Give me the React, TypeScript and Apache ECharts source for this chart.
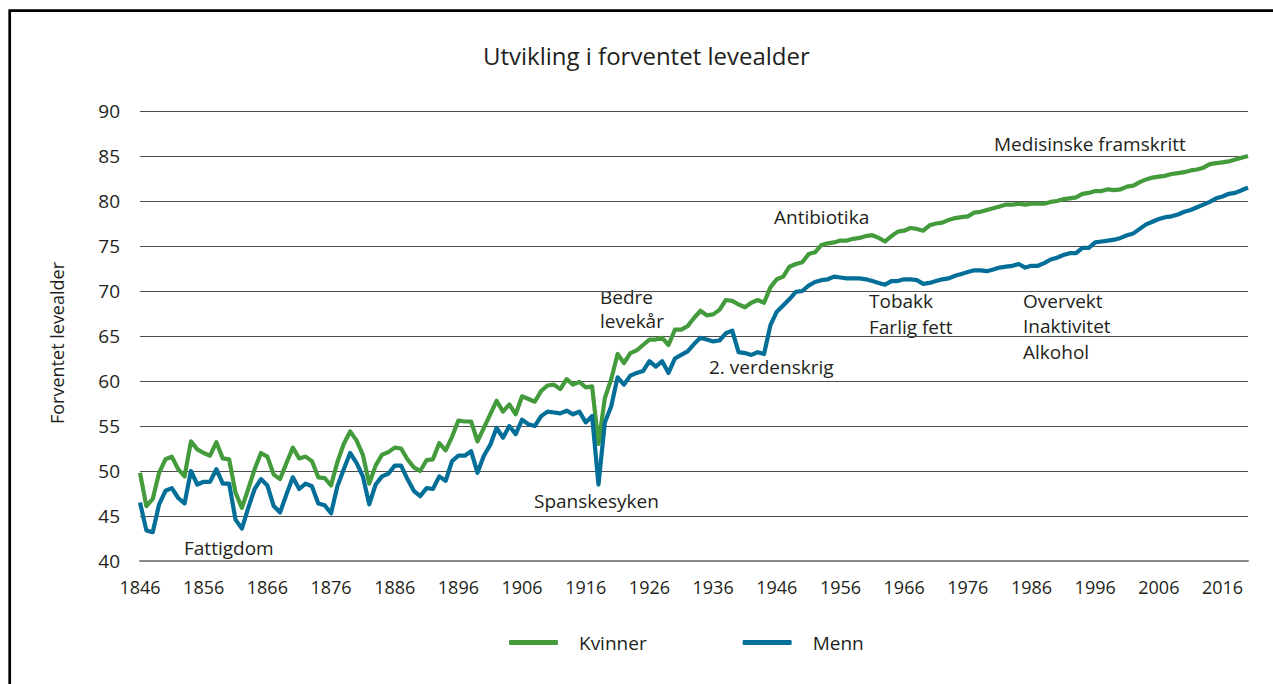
import React, { useEffect, useRef } from "react";
import * as echarts from "echarts";

const firstYear = 1846;
const lastYear = 2020;
const years: string[] = [];
for (let y = firstYear; y <= lastYear; y++) years.push(String(y));

const kvinner = [
  49.8, 46.1, 46.9, 49.8, 51.3, 51.6, 50.2, 49.4, 53.3, 52.4,
  52.0, 51.7, 53.2, 51.4, 51.3, 47.6, 45.9, 48.0, 50.2, 52.0,
  51.6, 49.6, 49.1, 50.9, 52.6, 51.4, 51.6, 51.1, 49.3, 49.2,
  48.4, 51.0, 53.0, 54.4, 53.4, 51.8, 48.6, 50.6, 51.8, 52.1,
  52.6, 52.5, 51.3, 50.4, 50.0, 51.2, 51.3, 53.1, 52.3, 53.8,
  55.6, 55.5, 55.5, 53.3, 54.8, 56.3, 57.8, 56.6, 57.4, 56.3,
  58.3, 58.0, 57.7, 58.9, 59.5, 59.6, 59.1, 60.2, 59.6, 59.9,
  59.3, 59.4, 53.0, 58.1, 60.2, 63.0, 62.0, 63.1, 63.4, 64.0,
  64.6, 64.6, 64.8, 64.0, 65.7, 65.7, 66.1, 67.0, 67.8, 67.3,
  67.4, 67.9, 69.0, 68.9, 68.5, 68.2, 68.7, 69.0, 68.7, 70.4,
  71.3, 71.6, 72.7, 73.0, 73.2, 74.1, 74.3, 75.1, 75.3, 75.4,
  75.6, 75.6, 75.8, 75.9, 76.1, 76.2, 75.9, 75.5, 76.1, 76.6,
  76.7, 77.0, 76.9, 76.7, 77.3, 77.5, 77.6, 77.9, 78.1, 78.2,
  78.3, 78.7, 78.8, 79.0, 79.2, 79.4, 79.6, 79.6, 79.7, 79.6,
  79.7, 79.7, 79.7, 79.9, 80.0, 80.2, 80.3, 80.4, 80.8, 80.9,
  81.1, 81.1, 81.3, 81.2, 81.3, 81.6, 81.7, 82.1, 82.4, 82.6,
  82.7, 82.8, 83.0, 83.1, 83.2, 83.4, 83.5, 83.7, 84.1, 84.2,
  84.3, 84.4, 84.6, 84.8, 85.0,
];

const menn = [
  46.5, 43.4, 43.2, 46.3, 47.8, 48.1, 47.0, 46.4, 50.0, 48.5,
  48.8, 48.8, 50.2, 48.6, 48.6, 44.6, 43.6, 45.9, 48.0, 49.1,
  48.4, 46.1, 45.4, 47.4, 49.3, 48.0, 48.6, 48.3, 46.4, 46.2,
  45.3, 48.3, 50.2, 52.0, 50.9, 49.4, 46.3, 48.5, 49.4, 49.7,
  50.6, 50.6, 49.1, 47.8, 47.2, 48.1, 48.0, 49.4, 48.9, 51.1,
  51.7, 51.7, 52.2, 49.8, 51.7, 52.9, 54.8, 53.7, 55.0, 54.1,
  55.7, 55.2, 55.0, 56.1, 56.6, 56.5, 56.4, 56.7, 56.3, 56.6,
  55.4, 56.1, 48.5, 55.4, 57.2, 60.4, 59.6, 60.6, 60.9, 61.1,
  62.2, 61.6, 62.2, 60.9, 62.5, 62.9, 63.3, 64.1, 64.8, 64.6,
  64.4, 64.5, 65.3, 65.6, 63.2, 63.1, 62.9, 63.2, 63.0, 66.2,
  67.7, 68.4, 69.1, 69.9, 70.0, 70.6, 71.0, 71.2, 71.3, 71.6,
  71.5, 71.4, 71.4, 71.4, 71.3, 71.1, 70.9, 70.7, 71.1, 71.1,
  71.3, 71.3, 71.2, 70.8, 70.9, 71.1, 71.3, 71.4, 71.7, 71.9,
  72.1, 72.3, 72.3, 72.2, 72.4, 72.6, 72.7, 72.8, 73.0, 72.6,
  72.8, 72.8, 73.1, 73.5, 73.7, 74.0, 74.2, 74.2, 74.8, 74.8,
  75.4, 75.5, 75.6, 75.7, 75.9, 76.2, 76.4, 76.9, 77.4, 77.7,
  78.0, 78.2, 78.3, 78.5, 78.8, 79.0, 79.3, 79.6, 79.9, 80.3,
  80.5, 80.8, 80.9, 81.2, 81.5,
];

const titleText = "Utvikling i forventet levealder";
const yAxisTitle = "Forventet levealder";
const seriesNames = ["Kvinner", "Menn"];

const annotations: { text: string; x: number; y: number; lh?: number }[] = [
  { text: "Fattigdom", x: 184, y: 548 },
  { text: "Spanskesyken", x: 534, y: 501 },
  { text: "Bedre\nlevekår", x: 600, y: 309, lh: 24 },
  { text: "2. verdenskrig", x: 709, y: 367 },
  { text: "Antibiotika", x: 774, y: 217 },
  { text: "Tobakk\nFarlig fett", x: 869, y: 314, lh: 26 },
  { text: "Overvekt\nInaktivitet\nAlkohol", x: 1023, y: 326, lh: 25.5 },
  { text: "Medisinske framskritt", x: 994, y: 144 },
];

const FONT = "'Open Sans', sans-serif";
const GREEN = "#439b3c";
const BLUE = "#036f98";

export default function App() {
  const ref = useRef<HTMLDivElement>(null);
  useEffect(() => {
    if (!ref.current) return;
    const chart = echarts.init(ref.current, null, { renderer: "svg" });
    const textColor = "#231f20";
    chart.setOption({
      animation: false,
      backgroundColor: "#ffffff",
      textStyle: { fontFamily: FONT },
      title: {
        text: titleText,
        left: 478,
        top: 38,
        textStyle: { fontSize: 24, fontWeight: "normal", color: textColor, fontFamily: FONT },
      },
      legend: {
        data: seriesNames,
        left: 504,
        top: 628,
        icon: "roundRect",
        itemWidth: 49,
        itemHeight: 5,
        itemGap: 96,
        textStyle: { fontSize: 19, color: textColor, padding: [0, 0, 0, 16], fontFamily: FONT },
      },
      grid: { left: 140, right: 25, top: 111, bottom: 123, containLabel: false },
      xAxis: {
        type: "category",
        data: years,
        boundaryGap: false,
        axisLine: { show: true, lineStyle: { color: "#8a8a8a", width: 2 } },
        axisTick: { show: false },
        axisLabel: { interval: 9, fontSize: 18, color: textColor, margin: 17, fontFamily: FONT },
        splitLine: { show: false },
      },
      yAxis: {
        type: "value",
        min: 40,
        max: 90,
        interval: 5,
        axisLine: { show: false },
        axisTick: { show: false },
        axisLabel: { fontSize: 19, color: textColor, margin: 20, fontFamily: FONT },
        splitLine: { show: true, lineStyle: { color: "#4d4d4d", width: 1 } },
      },
      series: [
        {
          name: seriesNames[0],
          type: "line",
          data: kvinner,
          symbol: "none",
          lineStyle: { color: GREEN, width: 4.2, join: "round" },
          itemStyle: { color: GREEN },
        },
        {
          name: seriesNames[1],
          type: "line",
          data: menn,
          symbol: "none",
          lineStyle: { color: BLUE, width: 4.2, join: "round" },
          itemStyle: { color: BLUE },
        },
      ],
      graphic: [
        {
          type: "polyline",
          shape: { points: [[9.7, 700], [9.7, 10.7], [1290, 10.7]] },
          style: { stroke: "#000", lineWidth: 2.7, fill: "none" },
          silent: true,
        },
        {
          type: "text",
          x: 57,
          y: 343,
          rotation: Math.PI / 2,
          style: {
            text: yAxisTitle,
            fontSize: 18,
            fontFamily: FONT,
            fill: textColor,
            align: "center",
            verticalAlign: "middle",
          },
        },
        ...annotations.map((a) => ({
          type: "text",
          x: a.x,
          y: a.y,
          style: {
            text: a.text,
            fontSize: 19,
            fontFamily: FONT,
            fill: textColor,
            align: "left",
            verticalAlign: "middle",
            lineHeight: a.lh ?? 24,
          },
        })),
      ],
    });
    return () => chart.dispose();
  }, []);
  return (
    <div
      ref={ref}
      style={{ position: "absolute", left: 0, top: 0, width: 1273, height: 684 }}
    />
  );
}
